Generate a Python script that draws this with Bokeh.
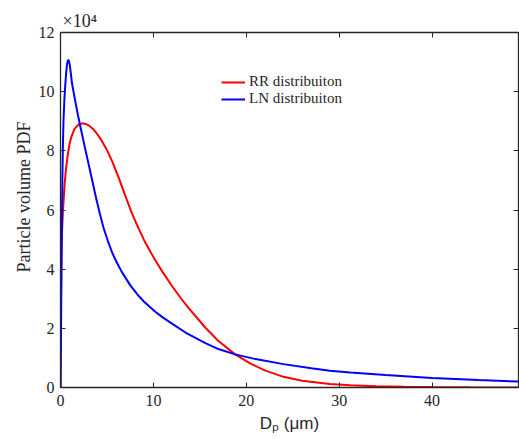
from bokeh.plotting import figure
from bokeh.models import Range1d, LinearAxis, FixedTicker, Legend, LegendItem, Title
from bokeh.embed import file_html
from bokeh.resources import INLINE

# ---- data (PDF values in units of 1e4) ----
rr_x = [0, 0.01, 0.03, 0.05, 0.1, 0.17, 0.26, 0.32, 0.45, 0.61, 0.8, 0.97, 1.2, 1.51, 1.9,
        2.34, 2.7, 3.12, 3.5, 3.85, 4.4, 5.0, 5.6, 6.3, 7.08, 7.7, 8.4, 9.0, 9.66, 10.2,
        11.0, 12.0, 13.0, 13.8, 15.6, 17.0, 18.8, 20.5, 22.0, 24.0, 26.0, 29.0, 31.2,
        34.0, 37.0, 40.0, 44.0, 49.3]
rr_y = [0, 1.5, 2.4, 2.9, 4.5, 5.3, 5.97, 6.25, 6.9, 7.44, 7.9, 8.23, 8.5, 8.74, 8.88,
        8.93, 8.91, 8.84, 8.74, 8.61, 8.36, 8.03, 7.62, 7.06, 6.39, 5.88, 5.38, 4.98, 4.6, 4.3,
        3.9, 3.43, 3.0, 2.68, 2.02, 1.57, 1.12, 0.8, 0.58, 0.36, 0.23, 0.12, 0.08,
        0.045, 0.025, 0.013, 0.005, 0.001]

ln_x = [0, 0.05, 0.1, 0.15, 0.2, 0.26, 0.32, 0.42, 0.51, 0.6, 0.7, 0.8, 0.9, 1.0, 1.1,
        1.23, 1.4, 1.6, 1.87, 2.12, 2.6, 3.2, 3.85, 4.25, 4.63, 5.1, 5.6, 6.1, 6.61, 7.5,
        8.4, 9.0, 9.66, 10.2, 11.0, 12.0, 13.5, 15.6, 17.0, 18.8, 21.0, 24.0, 27.0, 29.0,
        31.2, 35.0, 40.0, 45.0, 49.3]
ln_y = [0, 1.5, 3.8, 5.6, 7.0, 8.2, 9.0, 9.75, 10.2, 10.6, 10.92, 11.07, 11.05, 10.9, 10.65,
        10.3, 10.0, 9.66, 9.22, 8.85, 8.15, 7.3, 6.38, 5.86, 5.4, 4.95, 4.53, 4.2, 3.9, 3.46,
        3.1, 2.9, 2.71, 2.56, 2.37, 2.16, 1.85, 1.5, 1.3, 1.12, 0.96, 0.79, 0.65, 0.57,
        0.51, 0.42, 0.32, 0.25, 0.2]

x_ticks = [0, 10, 20, 30, 40]
x_tick_labels = ["0", "10", "20", "30", "40"]
y_ticks = [0, 2, 4, 6, 8, 10, 12]
y_tick_labels = ["0", "2", "4", "6", "8", "10", "12"]
legend_labels = ["RR distribuiton", "LN distribuiton"]
y_label = "Particle volume PDF"
x_label = "D\u209a (\u03bcm)"
exponent_text = "\u00d710\u2074"

SERIF = "Liberation Serif"
SANS = "Liberation Sans"
AX = "#262626"

p = figure(width=519, height=439, x_range=Range1d(0, 49.3), y_range=Range1d(0, 12),
           output_backend="svg", toolbar_location=None,
           min_border_left=60, min_border_right=1, min_border_top=32, min_border_bottom=52)
p.outline_line_color = None
p.xgrid.visible = False
p.ygrid.visible = False
p.background_fill_color = "white"

def style_axis(ax, ticks, labels, show_labels):
    ax.ticker = FixedTicker(ticks=ticks)
    ax.major_label_overrides = {t: l for t, l in zip(ticks, labels)}
    ax.minor_tick_line_color = None
    ax.major_tick_in = 5
    ax.major_tick_out = 0
    ax.major_tick_line_color = AX
    ax.major_tick_line_width = 1
    ax.axis_line_color = AX
    ax.axis_line_width = 1.3
    ax.major_label_text_font = SERIF
    ax.major_label_text_color = AX
    if show_labels:
        ax.major_label_text_font_size = "16px"
    else:
        ax.major_label_text_font_size = "1px"
        ax.major_label_text_color = None
        ax.major_label_standoff = 0

style_axis(p.xaxis[0], x_ticks, x_tick_labels, True)
style_axis(p.yaxis[0], y_ticks, y_tick_labels, True)
p.xaxis[0].major_label_standoff = 7
p.yaxis[0].major_label_standoff = 6

# x axis label
xa = p.xaxis[0]
xa.axis_label = x_label
xa.axis_label_text_font = SANS
xa.axis_label_text_font_size = "17px"
xa.axis_label_text_font_style = "normal"
xa.axis_label_text_color = AX
xa.axis_label_standoff = 5

top = LinearAxis()
style_axis(top, x_ticks, x_tick_labels, False)
p.add_layout(top, "above")
right = LinearAxis()
style_axis(right, y_ticks, y_tick_labels, False)
p.add_layout(right, "right")

# exponent (x10^4) as a title above the frame
p.title.text = exponent_text
p.title.text_font = SERIF
p.title.text_font_size = "18px"
p.title.text_font_style = "normal"
p.title.text_color = AX
p.title.align = "left"
p.title.offset = 2
p.title.standoff = 3

# y label as a left-side title
ylab = Title(text=y_label, align="left", offset=115, standoff=4,
             text_font=SERIF, text_font_size="18px", text_font_style="normal",
             text_color=AX)
p.add_layout(ylab, "left")

r_rr = p.line(rr_x, rr_y, line_color="#ff0000", line_width=2)
r_ln = p.line(ln_x, ln_y, line_color="#0000ff", line_width=2)

legend = Legend(items=[LegendItem(label=legend_labels[0], renderers=[r_rr]),
                       LegendItem(label=legend_labels[1], renderers=[r_ln])],
                location=(161, 280), padding=0, margin=0, spacing=0,
                glyph_width=24, glyph_height=16, label_height=16, label_standoff=4,
                label_text_font=SERIF, label_text_font_size="15px", label_text_color=AX,
                border_line_color=None, background_fill_alpha=0)
p.add_layout(legend, "center")

open("out.html", "w").write(file_html(p, INLINE))
